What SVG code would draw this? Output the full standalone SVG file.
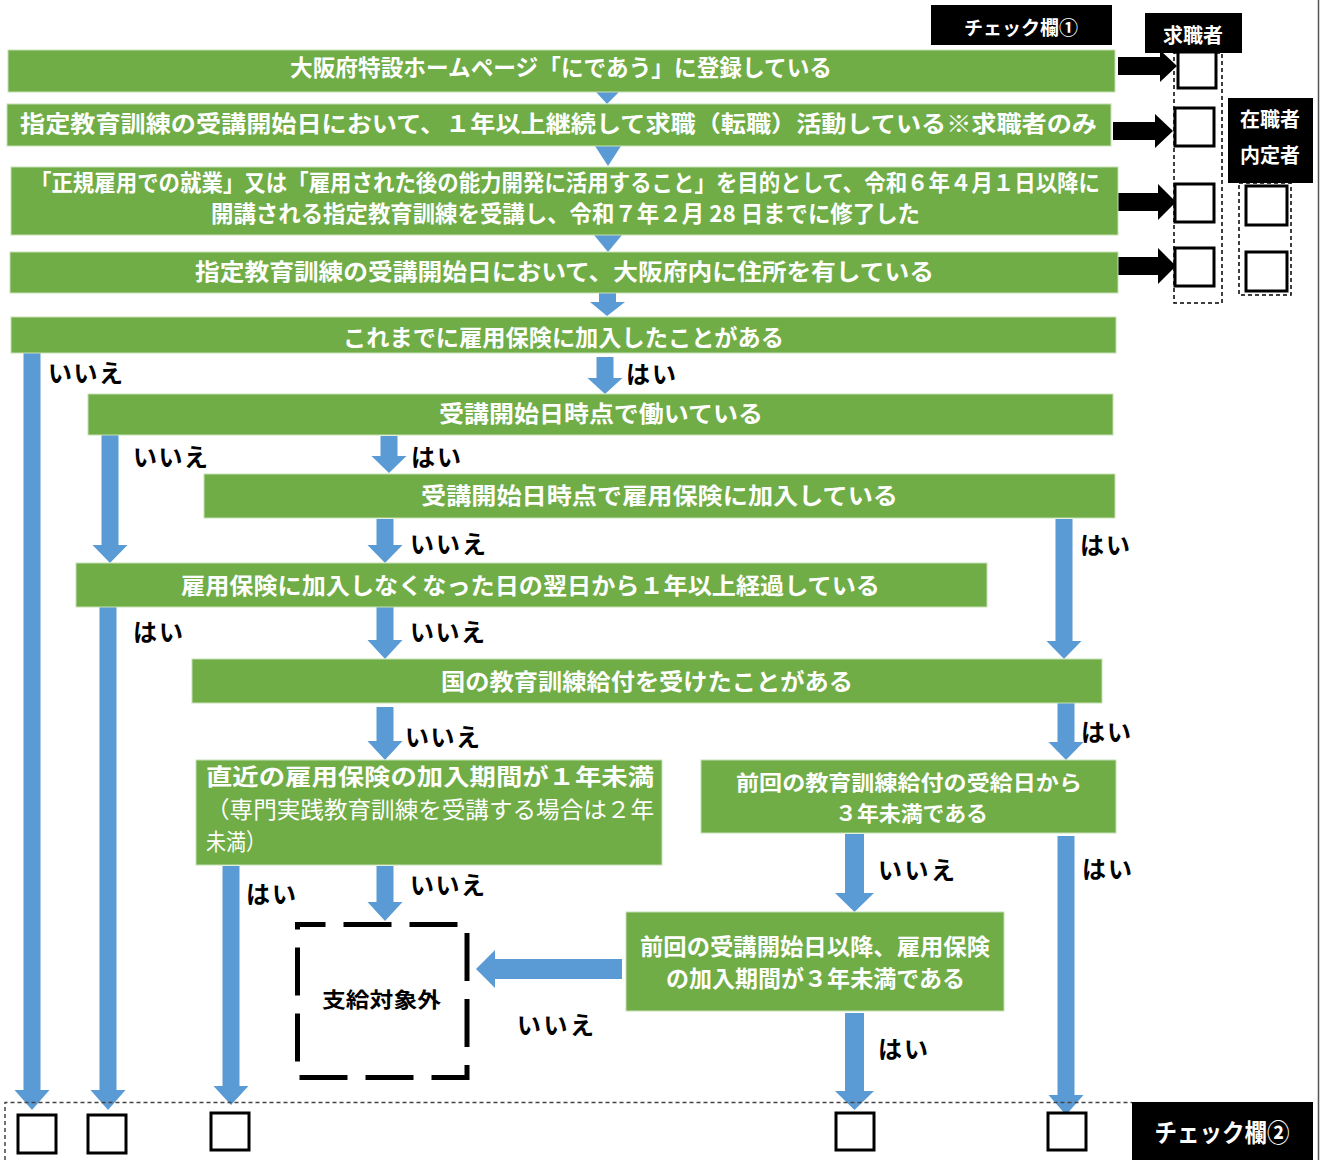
<svg xmlns="http://www.w3.org/2000/svg" width="1322" height="1160" viewBox="0 0 1322 1160">
<style>
.g{fill:#70AD47;stroke:#C5E0B4;stroke-width:1}
.t{font-family:"Noto Sans CJK JP","Noto Sans",sans-serif;font-weight:700;font-size:23px;fill:#fff}
.tr{font-family:"Noto Sans CJK JP","Noto Sans",sans-serif;font-weight:400;font-size:23px;fill:#fff}
.l{font-family:"Noto Sans CJK JP","Noto Sans",sans-serif;font-weight:700;font-size:24px;fill:#000}
.h{font-family:"Noto Sans CJK JP","Noto Sans",sans-serif;font-weight:700;fill:#fff;text-anchor:middle}
.a{fill:#5B9BD5}
.k{fill:#000}
.cb{fill:#fff;stroke:#000;stroke-width:3}
.dc{fill:none;stroke:#000;stroke-width:1.5;stroke-dasharray:4 3}
</style>
<rect width="1322" height="1160" fill="#fff"/>
<line x1="1318.5" y1="0" x2="1318.5" y2="1160" stroke="#555" stroke-width="1.5"/>

<g id="connectors">
<polygon class="a" points="596,92 619,92 607,104"/>
<polygon class="a" points="595,146 621,146 608,166"/>
<polygon class="a" points="594,235 622,235 608,252"/>
<polygon class="a" points="599,293 616,293 616,302 625,302 607,316 590,302 599,302"/>
<polygon class="a" points="596.5,357 613.5,357 613.5,378 622.5,378 605,394 587.5,378 596.5,378"/>
<polygon class="a" points="23.5,353 40.5,353 40.5,1090 49.5,1090 32,1110 14.5,1090 23.5,1090"/>
<polygon class="a" points="101.5,435 118.5,435 118.5,545 127.5,545 110,563 92.5,545 101.5,545"/>
<polygon class="a" points="380.5,436 397.5,436 397.5,456 406.5,456 389,473 371.5,456 380.5,456"/>
<polygon class="a" points="376.5,519 393.5,519 393.5,545 402.5,545 385,563 367.5,545 376.5,545"/>
<polygon class="a" points="1055.5,519 1072.5,519 1072.5,641 1081.5,641 1064,659 1046.5,641 1055.5,641"/>
<polygon class="a" points="99.5,607 116.5,607 116.5,1090 125.5,1090 108,1110 90.5,1090 99.5,1090"/>
<polygon class="a" points="376.5,607 393.5,607 393.5,640 402.5,640 385,659 367.5,640 376.5,640"/>
<polygon class="a" points="376.5,707 393.5,707 393.5,741 402.5,741 385,760 367.5,741 376.5,741"/>
<polygon class="a" points="1057.5,703 1074.5,703 1074.5,742 1083.5,742 1066,760 1048.5,742 1057.5,742"/>
<polygon class="a" points="222.5,866 239.5,866 239.5,1086 248.5,1086 231,1105 213.5,1086 222.5,1086"/>
<polygon class="a" points="376.5,866 393.5,866 393.5,902 402.5,902 385,921 367.5,902 376.5,902"/>
<polygon class="a" points="845,834 864,834 864,893 874,893 854.5,912 835,893 845,893"/>
<polygon class="a" points="1057.5,836 1074.5,836 1074.5,1095 1083.5,1095 1066,1115 1048.5,1095 1057.5,1095"/>
<polygon class="a" points="845,1013 864,1013 864,1091 874,1091 854.5,1110 835,1091 845,1091"/>
<polygon class="a" points="622,959 622,979 495,979 495,988 476,969 495,950 495,959"/>
<polygon class="k" points="1118,57 1160,57 1160,50 1177,66 1160,82 1160,75 1118,75"/>
<polygon class="k" points="1113,122 1155,122 1155,114 1173,131 1155,148 1155,140 1113,140"/>
<polygon class="k" points="1118,193 1158,193 1158,184 1176,202 1158,220 1158,211 1118,211"/>
<polygon class="k" points="1118,257 1158,257 1158,248 1176,266 1158,284 1158,275 1118,275"/>
</g>

<g id="labels">
<text class="l" x="48" y="382" textLength="75">いいえ</text>
<text class="l" x="626" y="383" textLength="50">はい</text>
<text class="l" x="133" y="466" textLength="75">いいえ</text>
<text class="l" x="411" y="466" textLength="50">はい</text>
<text class="l" x="410" y="553" textLength="76">いいえ</text>
<text class="l" x="1080" y="554" textLength="50">はい</text>
<text class="l" x="133" y="641" textLength="50">はい</text>
<text class="l" x="410" y="641" textLength="75">いいえ</text>
<text class="l" x="405" y="746" textLength="75">いいえ</text>
<text class="l" x="1081" y="741" textLength="50">はい</text>
<text class="l" x="246" y="903" textLength="50">はい</text>
<text class="l" x="410" y="894" textLength="75">いいえ</text>
<text class="l" x="878" y="879" textLength="77">いいえ</text>
<text class="l" x="1082" y="878" textLength="50">はい</text>
<text class="l" x="517" y="1034" textLength="77">いいえ</text>
<text class="l" x="878" y="1058" textLength="50">はい</text>
</g>

<g id="n1"><rect class="g" x="8" y="50" width="1107" height="42"/><text class="t" x="290" y="76" textLength="542" lengthAdjust="spacingAndGlyphs">大阪府特設ホームページ「にであう」に登録している</text></g>
<g id="n2"><rect class="g" x="7" y="104" width="1104" height="42"/><text class="t" x="20" y="132" textLength="1077" lengthAdjust="spacingAndGlyphs">指定教育訓練の受講開始日において、１年以上継続して求職（転職）活動している※求職者のみ</text></g>
<g id="n3"><rect class="g" x="11" y="167" width="1107" height="68"/><text class="t" x="30" y="191" textLength="1070" lengthAdjust="spacingAndGlyphs">「正規雇用での就業」又は「雇用された後の能力開発に活用すること」を目的として、令和６年４月１日以降に</text><text class="t" x="211" y="222" textLength="709" lengthAdjust="spacingAndGlyphs">開講される指定教育訓練を受講し、令和７年２月 28 日までに修了した</text></g>
<g id="n4"><rect class="g" x="10" y="252" width="1108" height="41"/><text class="t" x="195" y="280" textLength="739" lengthAdjust="spacingAndGlyphs">指定教育訓練の受講開始日において、大阪府内に住所を有している</text></g>
<g id="n5"><rect class="g" x="11" y="317" width="1105" height="36"/><text class="t" x="343" y="346" textLength="441" lengthAdjust="spacingAndGlyphs">これまでに雇用保険に加入したことがある</text></g>
<g id="n6"><rect class="g" x="88" y="394" width="1025" height="41"/><text class="t" x="439" y="422" textLength="324" lengthAdjust="spacingAndGlyphs">受講開始日時点で働いている</text></g>
<g id="n7"><rect class="g" x="204" y="474" width="911" height="44"/><text class="t" x="421" y="504" textLength="477" lengthAdjust="spacingAndGlyphs">受講開始日時点で雇用保険に加入している</text></g>
<g id="n8"><rect class="g" x="76" y="563" width="911" height="44"/><text class="t" x="181" y="594" textLength="699" lengthAdjust="spacingAndGlyphs">雇用保険に加入しなくなった日の翌日から１年以上経過している</text></g>
<g id="n9"><rect class="g" x="192" y="659" width="910" height="44"/><text class="t" x="441" y="690" textLength="412" lengthAdjust="spacingAndGlyphs">国の教育訓練給付を受けたことがある</text></g>
<g id="n10"><rect class="g" x="196" y="760" width="466" height="105"/><text class="t" x="206" y="785" textLength="448" lengthAdjust="spacingAndGlyphs">直近の雇用保険の加入期間が１年未満</text><text class="tr" x="206" y="818" textLength="448" lengthAdjust="spacingAndGlyphs">（専門実践教育訓練を受講する場合は２年</text><text class="tr" x="206" y="850" textLength="60" lengthAdjust="spacingAndGlyphs">未満）</text></g>
<g id="n11"><rect class="g" x="701" y="760" width="415" height="73"/><text class="t" x="736" y="790" textLength="346" lengthAdjust="spacingAndGlyphs" style="font-size:21px">前回の教育訓練給付の受給日から</text><text class="t" x="835" y="821" textLength="153" lengthAdjust="spacingAndGlyphs" style="font-size:21px">３年未満である</text></g>
<g id="n12"><rect class="g" x="626" y="912" width="378" height="99"/><text class="t" x="640" y="955" textLength="350" lengthAdjust="spacingAndGlyphs">前回の受講開始日以降、雇用保険</text><text class="t" x="666" y="987" textLength="299" lengthAdjust="spacingAndGlyphs">の加入期間が３年未満である</text></g>
<g id="n13"><path d="M297.5,924.5 H467 V1077.5 H297.5 Z" fill="none" stroke="#000" stroke-width="5" stroke-dasharray="48 18" stroke-dashoffset="20"/><text class="l" x="322" y="1007" textLength="119" lengthAdjust="spacingAndGlyphs" style="font-size:21px">支給対象外</text></g>

<g id="check1">
<rect class="dc" x="1174" y="53" width="48" height="250"/>
<rect class="dc" x="1239" y="183" width="52" height="112"/>
<rect x="931" y="5" width="181" height="40" fill="#000"/>
<text class="h" x="1021" y="35" style="font-size:19px">チェック欄①</text>
<rect x="1145" y="13" width="97" height="40" fill="#000"/>
<text class="h" x="1193" y="43" style="font-size:20px">求職者</text>
<rect x="1228" y="98" width="85" height="85" fill="#000"/>
<text class="h" x="1270" y="127" style="font-size:20px">在職者</text>
<text class="h" x="1270" y="163" style="font-size:20px">内定者</text>
<rect class="cb" x="1178" y="52" width="38" height="36"/>
<rect class="cb" x="1175" y="108" width="39" height="38"/>
<rect class="cb" x="1175" y="184" width="39" height="38"/>
<rect class="cb" x="1175" y="248" width="39" height="38"/>
<rect class="cb" x="1246" y="186" width="41" height="39"/>
<rect class="cb" x="1246" y="252" width="41" height="39"/>
</g>

<g id="check2">
<path d="M5,1160 V1102.5 H1132" fill="none" stroke="#444" stroke-width="1.5" stroke-dasharray="4 3"/>
<rect x="1132" y="1102" width="181" height="58" fill="#000"/>
<text class="h" x="1222" y="1142" style="font-size:25px" textLength="135" lengthAdjust="spacingAndGlyphs">チェック欄②</text>
<rect class="cb" x="18" y="1115" width="38" height="38"/>
<rect class="cb" x="88" y="1115" width="38" height="38"/>
<rect class="cb" x="211" y="1113" width="38" height="37"/>
<rect class="cb" x="836" y="1113" width="38" height="37"/>
<rect class="cb" x="1048" y="1113" width="38" height="37"/>
</g>
</svg>
